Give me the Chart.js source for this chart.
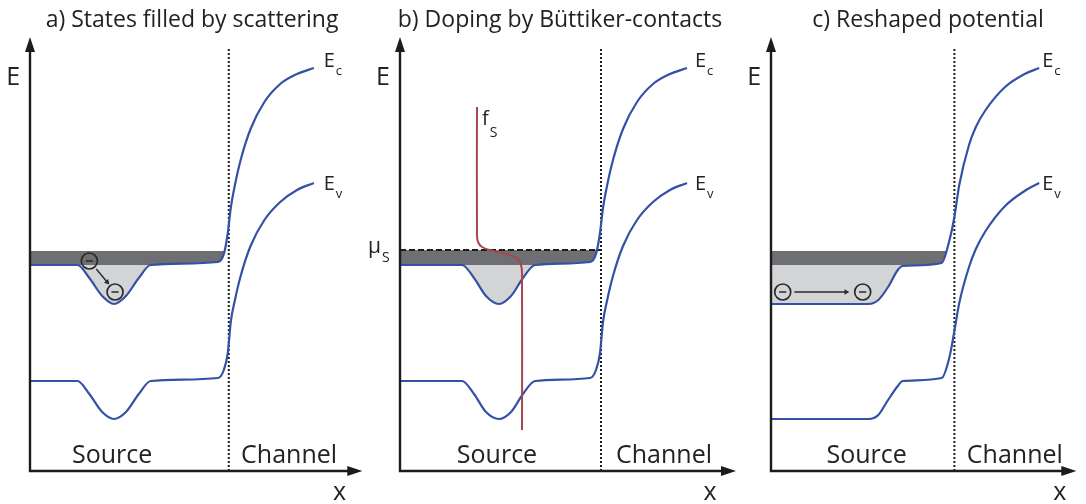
<!DOCTYPE html>
<html>
<head>
<meta charset="utf-8">
<script src="https://cdn.jsdelivr.net/npm/chart.js@4.4.1/dist/chart.umd.min.js"></script>
<style>
  html, body { margin: 0; padding: 0; background: #fff; }
  #wrap { position: relative; width: 1086px; height: 504px; overflow: hidden; }
  canvas { position: absolute; top: 0; }
</style>
</head>
<body>
<div id="wrap">
  <canvas id="pa" width="372" height="504" style="left:0px"></canvas>
  <canvas id="pb" width="384" height="504" style="left:360px"></canvas>
  <canvas id="pc" width="342" height="504" style="left:744px"></canvas>
</div>
<script>
// ---- Band profiles (x: position along the device, E: energy; arbitrary units) ----

// a) States filled by scattering
const posA = [0, 4.8, 6.0, 7.3, 8.5, 9.7, 11.0, 12.2, 19.0, 19.6, 20.0, 20.3, 20.7, 21.3, 22.3, 23.7, 25.3, 27.0, 28.7];
const ecA  = [20.6, 20.6, 19.3, 17.5, 16.7, 17.5, 19.3, 20.6, 20.9, 21.7, 23.8, 26.3, 28.5, 31.1, 34.2, 36.9, 38.7, 39.7, 40.3];
const evA  = [9.0, 9.0, 7.7, 5.9, 5.2, 5.9, 7.7, 9.0, 9.3, 10.1, 11.8, 14.9, 17.0, 19.5, 22.5, 25.1, 26.9, 28.1, 28.8];
const electronXA = [6.0, 8.6];
const electronEA = [21.0, 17.9];
const hopXA = [6.7, 7.8];
const hopEA = [20.2, 18.9];

// b) Doping by Büttiker-contacts
const posB = [0, 6.2, 7.4, 8.6, 9.9, 11.1, 12.3, 13.5, 19.0, 19.6, 20.0, 20.3, 20.7, 21.3, 22.3, 23.7, 25.3, 27.0, 28.7];
const ecB  = [20.6, 20.6, 19.3, 17.5, 16.7, 17.5, 19.3, 20.6, 20.9, 21.7, 23.8, 26.3, 28.5, 31.1, 34.2, 36.9, 38.7, 39.7, 40.3];
const evB  = [9.0, 9.0, 7.7, 5.9, 5.2, 5.9, 7.7, 9.0, 9.3, 10.1, 11.8, 14.9, 17.0, 19.5, 22.5, 25.1, 26.9, 28.1, 28.8];
// Fermi distribution of the Büttiker probes, drawn sideways (f grows to the right)
const fermiX = [7.7, 7.7, 7.8, 8.2, 9.3, 11.0, 11.8, 12.1, 12.2, 12.2];
const fermiE = [36.4, 23.6, 22.9, 22.4, 22.0, 21.6, 21.2, 20.6, 19.8, 4.1];
const muS = 22.1;

// c) Reshaped potential
const posC = [0, 10.0, 11.0, 12.0, 13.0, 13.5, 17.5, 18.3, 18.8, 19.3, 20.3, 21.0, 22.0, 24.0, 26.0, 27.5];
const ecC  = [16.7, 16.7, 17.1, 18.4, 20.1, 20.5, 20.8, 23.1, 25.4, 28.6, 32.6, 34.4, 36.1, 38.4, 39.7, 40.3];
const evC  = [5.2, 5.2, 5.6, 7.1, 8.5, 9.0, 9.3, 11.4, 14.0, 16.8, 20.4, 22.2, 24.0, 26.5, 28.0, 28.8];
const electronXC = [1.2, 9.4];
const electronEC = [17.9, 17.9];
const hopXC = [2.4, 7.7];
const hopEC = [17.9, 17.9];

// shared levels
const occupiedTop = 22.0;   // upper edge of the occupied states
const bandEdge = 20.6;      // unperturbed conduction band edge in the source
const interfaceA = 20.1, interfaceB = 20.1, interfaceC = 18.8;
const interfaceTop = 42.3;

// ---- styling ----
const FONT = '"Open Sans", "Noto Sans", "DejaVu Sans", sans-serif';
const INK = '#1c1c1c';
const BLUE = '#3551a6';
const DARK = '#6e6f72';
const LIGHT = '#d2d4d6';
const RED = '#a8464f';

const pts = (xs, ys) => xs.map((x, i) => ({ x, y: ys[i] }));

const decor = {
  id: 'decor',
  afterDatasetsDraw(chart, _args, o) {
    const { ctx, chartArea: a, scales: { x, y } } = chart;
    ctx.save();
    // axes with arrowheads
    ctx.strokeStyle = INK; ctx.fillStyle = INK; ctx.lineWidth = 2.4;
    ctx.beginPath();
    ctx.moveTo(a.left, a.bottom + 1.2); ctx.lineTo(a.left, a.top + 12);
    ctx.moveTo(a.left - 1.2, a.bottom); ctx.lineTo(a.right - 12, a.bottom);
    ctx.stroke();
    ctx.beginPath();
    ctx.moveTo(a.left, a.top); ctx.lineTo(a.left - 5, a.top + 15); ctx.lineTo(a.left + 5, a.top + 15);
    ctx.closePath(); ctx.fill();
    ctx.beginPath();
    ctx.moveTo(a.right, a.bottom); ctx.lineTo(a.right - 15, a.bottom - 5); ctx.lineTo(a.right - 15, a.bottom + 5);
    ctx.closePath(); ctx.fill();

    // title
    ctx.fillStyle = '#222';
    ctx.textBaseline = 'alphabetic';
    ctx.textAlign = 'center';
    ctx.font = `23px ${FONT}`;
    ctx.fillText(o.title, o.titleX, 27);

    // labels anchored in data coordinates
    for (const t of o.texts) {
      const px = x.getPixelForValue(t.x);
      const py = y.getPixelForValue(t.y);
      ctx.font = `${t.size}px ${FONT}`;
      ctx.textAlign = t.align || 'left';
      ctx.fillText(t.t, px, py);
      if (t.sub) {
        const w = ctx.measureText(t.t).width;
        const left = t.align === 'right' ? px : t.align === 'center' ? px + w / 2 : px + w;
        ctx.font = `${t.subSize}px ${FONT}`;
        ctx.textAlign = 'left';
        ctx.fillText(t.sub, left + 1, py + t.subDy);
      }
    }
    ctx.restore();
  }
};

function bandDatasets(pos, ec, ev, iface, muDashed, muLevel) {
  return [
    { // conduction band edge (index 0: fill target)
      data: pts(pos, ec), borderColor: BLUE, borderWidth: 2.2,
      cubicInterpolationMode: 'monotone', pointRadius: 0, fill: false, order: 1
    },
    { // valence band edge
      data: pts(pos, ev), borderColor: BLUE, borderWidth: 2.2,
      cubicInterpolationMode: 'monotone', pointRadius: 0, fill: false, order: 1
    },
    { // source/channel interface
      data: [{ x: iface, y: 0 }, { x: iface, y: interfaceTop }],
      borderColor: INK, borderWidth: 2, borderDash: [2, 2], pointRadius: 0, fill: false, order: 3
    },
    { // states below the band edge
      data: [{ x: 0, y: bandEdge }, { x: iface, y: bandEdge }],
      borderColor: 'transparent', borderWidth: 0, pointRadius: 0, backgroundColor: LIGHT,
      fill: { target: 0, above: LIGHT, below: 'transparent' }, order: 8
    },
    { // occupied states above the band edge
      data: [{ x: 0, y: muLevel }, { x: iface, y: muLevel }],
      borderColor: muDashed ? INK : 'transparent', borderWidth: muDashed ? 2 : 0,
      borderDash: [6, 3], pointRadius: 0, backgroundColor: DARK,
      fill: { target: 0, above: DARK, below: 'transparent' }, order: 9
    }
  ];
}

function electronDatasets(ex, ee, hx, he, rot) {
  return [
    {
      data: pts(ex, ee), showLine: false, pointStyle: 'circle', pointRadius: 8,
      pointBorderWidth: 1.7, pointBorderColor: '#2a2a2a', pointBackgroundColor: 'transparent', order: 0
    },
    {
      data: pts(ex, ee), showLine: false, pointStyle: 'line', pointRadius: 3.6,
      pointBorderWidth: 1.7, pointBorderColor: '#2a2a2a', order: 0
    },
    {
      data: pts(hx, he), borderColor: '#2a2a2a', borderWidth: 1.4, fill: false,
      pointStyle: 'triangle', pointRadius: [0, 3.2], pointRotation: rot,
      pointBackgroundColor: '#2a2a2a', pointBorderColor: '#2a2a2a', pointBorderWidth: 0, order: 0
    }
  ];
}

function makePanel(id, datasets, xMax, pad, decorOpts) {
  new Chart(document.getElementById(id), {
    type: 'line',
    data: { datasets },
    options: {
      responsive: false, animation: false, devicePixelRatio: 1,
      layout: { padding: pad },
      scales: {
        x: { type: 'linear', min: 0, max: xMax, display: false },
        y: { type: 'linear', min: 0, max: 43.4, display: false }
      },
      plugins: { legend: { display: false }, tooltip: { enabled: false }, decor: decorOpts },
      elements: { line: { tension: 0 } }
    },
    plugins: [decor]
  });
}

// panel a
makePanel('pa',
  [...bandDatasets(posA, ecA, evA, interfaceA, false, occupiedTop),
   ...electronDatasets(electronXA, electronEA, hopXA, hopEA, 138)],
  33.6, { left: 30, right: 6, top: 37, bottom: 33 },
  {
    title: 'a) States filled by scattering', titleX: 192,
    texts: [
      { t: 'Source', x: 8.3, y: 0.8, size: 25, align: 'center' },
      { t: 'Channel', x: 26.2, y: 0.8, size: 25, align: 'center' },
      { t: 'E', sub: 'c', x: 29.7, y: 40.4, size: 20, subSize: 13, subDy: 8 },
      { t: 'E', sub: 'v', x: 29.7, y: 28.1, size: 20, subSize: 13, subDy: 8 },
      { t: 'E', x: -1.0, y: 38.6, size: 25, align: 'right' },
      { t: 'x', x: 31.3, y: -2.9, size: 25, align: 'center' }
    ]
  });

// panel b
makePanel('pb',
  [...bandDatasets(posB, ecB, evB, interfaceB, true, muS),
   { data: pts(fermiX, fermiE), borderColor: RED, borderWidth: 2, tension: 0.4,
     pointRadius: 0, fill: false, order: 0 }],
  33.6, { left: 40, right: 8, top: 37, bottom: 33 },
  {
    title: 'b) Doping by Büttiker-contacts', titleX: 200,
    texts: [
      { t: 'Source', x: 9.7, y: 0.8, size: 25, align: 'center' },
      { t: 'Channel', x: 26.4, y: 0.8, size: 25, align: 'center' },
      { t: 'E', sub: 'c', x: 29.5, y: 40.4, size: 20, subSize: 13, subDy: 8 },
      { t: 'E', sub: 'v', x: 29.5, y: 28.1, size: 20, subSize: 13, subDy: 8 },
      { t: 'E', x: -1.0, y: 38.6, size: 25, align: 'right' },
      { t: 'x', x: 31.0, y: -2.9, size: 25, align: 'center' },
      { t: 'μ', sub: 'S', x: -1.9, y: 21.8, size: 21, subSize: 14, subDy: 9, align: 'right' },
      { t: 'f', sub: 'S', x: 8.2, y: 34.6, size: 20, subSize: 14, subDy: 12 }
    ]
  });

// panel c
makePanel('pc',
  [...bandDatasets(posC, ecC, evC, interfaceC, false, occupiedTop),
   ...electronDatasets(electronXC, electronEC, hopXC, hopEC, 90)],
  31.3, { left: 27, right: 2, top: 37, bottom: 33 },
  {
    title: 'c) Reshaped potential', titleX: 184,
    texts: [
      { t: 'Source', x: 9.8, y: 0.8, size: 25, align: 'center' },
      { t: 'Channel', x: 25.0, y: 0.8, size: 25, align: 'center' },
      { t: 'E', sub: 'c', x: 27.8, y: 40.4, size: 20, subSize: 13, subDy: 8 },
      { t: 'E', sub: 'v', x: 27.8, y: 28.1, size: 20, subSize: 13, subDy: 8 },
      { t: 'E', x: -1.0, y: 38.6, size: 25, align: 'right' },
      { t: 'x', x: 29.6, y: -2.9, size: 25, align: 'center' }
    ]
  });
</script>
</body>
</html>
